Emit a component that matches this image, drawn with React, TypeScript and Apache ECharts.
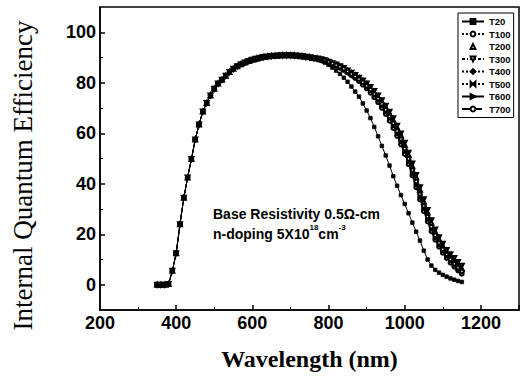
import React, { useEffect, useRef } from "react";
import * as echarts from "echarts";

// Wavelength grid (nm)
const wavelengths = [
  350, 360, 370, 380, 390, 400, 410, 420, 430, 440,
  450, 460, 470, 480, 490, 500, 510, 520, 530, 540,
  550, 560, 570, 580, 590, 600, 610, 620, 630, 640,
  650, 660, 670, 680, 690, 700, 710, 720, 730, 740,
  750, 760, 770, 780, 790, 800, 810, 820, 830, 840,
  850, 860, 870, 880, 890, 900, 910, 920, 930, 940,
  950, 960, 970, 980, 990, 1000, 1010, 1020, 1030, 1040,
  1050, 1060, 1070, 1080, 1090, 1100, 1110, 1120, 1130, 1140,
  1150,
];

// Common part of all curves, 350..770 nm (curves coincide here)
const blueQE = [
  0, 0, 0, 0.3, 5.5, 12.5, 24, 34.5, 42.5, 49.8,
  57.5, 63.5, 68.6, 72.0, 75.0, 77.6, 79.7, 81.2, 82.8, 84.3,
  85.5, 86.5, 87.3, 88.0, 88.6, 89.1, 89.5, 89.9, 90.2, 90.4,
  90.6, 90.7, 90.8, 90.9, 90.9, 90.9, 90.8, 90.7, 90.5, 90.3,
  90.1, 89.8, 89.6,
];

// Red-edge parts, 780..1150 nm
const t20Tail = [
  88.8, 88.0, 87.1, 86.0, 84.8, 83.5, 82.0, 80.4, 78.5, 76.5,
  74.5, 71.8, 69.0, 66.0, 62.5, 58.8, 55.0, 51.2, 47.2, 43.0,
  39.2, 35.5, 32.0, 28.3, 24.6, 21.0, 17.5, 13.5, 10.0, 7.6,
  5.9, 4.8, 3.9, 3.2, 2.5, 2.0, 1.5, 1.1,
];
const t100Tail = [
  89.3, 88.8, 88.2, 87.6, 87.0, 86.3, 85.5, 84.5, 83.5, 82.5,
  81.4, 80.2, 78.8, 77.3, 75.5, 73.7, 71.6, 69.3, 66.7, 64.0,
  60.9, 57.7, 53.9, 49.9, 45.4, 40.9, 35.9, 31.2, 27.0, 23.0,
  19.6, 16.6, 14.1, 12.0, 10.0, 8.3, 6.7, 5.3,
];
const t200Tail = [
  89.3, 88.8, 88.3, 87.7, 87.1, 86.4, 85.7, 84.8, 83.8, 82.9,
  81.8, 80.6, 79.4, 77.9, 76.3, 74.5, 72.6, 70.3, 67.9, 65.2,
  62.3, 59.1, 55.4, 51.4, 46.9, 42.5, 37.6, 32.9, 28.6, 24.6,
  21.0, 18.0, 15.4, 13.1, 11.1, 9.3, 7.7, 6.3,
];
const t300Tail = [
  89.3, 88.9, 88.3, 87.7, 87.2, 86.5, 85.8, 84.9, 84.0, 83.1,
  82.0, 80.9, 79.7, 78.3, 76.7, 75.0, 73.1, 70.9, 68.5, 65.9,
  63.0, 59.9, 56.2, 52.3, 48.0, 43.5, 38.6, 33.9, 29.6, 25.5,
  21.9, 18.8, 16.2, 13.8, 12.1, 10.6, 9.0, 7.5,
];
const t400Tail = [
  89.3, 88.8, 88.2, 87.6, 87.0, 86.3, 85.5, 84.6, 83.7, 82.7,
  81.6, 80.4, 79.1, 77.6, 76.0, 74.2, 72.2, 70.0, 67.5, 64.8,
  61.8, 58.6, 54.9, 50.9, 46.4, 41.9, 36.9, 32.2, 27.9, 23.9,
  20.4, 17.4, 14.8, 12.6, 10.6, 8.9, 7.3, 5.9,
];
const t500Tail = [
  89.3, 88.7, 88.1, 87.5, 86.9, 86.1, 85.3, 84.4, 83.4, 82.3,
  81.1, 79.9, 78.5, 76.9, 75.1, 73.2, 71.1, 68.7, 66.1, 63.3,
  60.2, 57.0, 53.1, 49.1, 44.6, 40.1, 35.2, 30.5, 26.3, 22.4,
  19.0, 16.1, 13.6, 11.5, 9.6, 8.0, 6.4, 5.1,
];
const t600Tail = [
  89.2, 88.7, 88.1, 87.4, 86.8, 86.0, 85.2, 84.2, 83.2, 82.1,
  80.9, 79.6, 78.1, 76.5, 74.7, 72.8, 70.6, 68.2, 65.6, 62.7,
  59.6, 56.3, 52.4, 48.4, 43.9, 39.3, 34.4, 29.8, 25.6, 21.7,
  18.4, 15.5, 13.1, 11.0, 9.2, 7.5, 6.0, 4.7,
];
const t700Tail = [
  89.2, 88.6, 88.0, 87.3, 86.7, 85.9, 85.0, 84.0, 82.9, 81.8,
  80.6, 79.2, 77.7, 76.0, 74.2, 72.2, 70.0, 67.6, 64.9, 62.0,
  58.9, 55.5, 51.7, 47.7, 43.2, 38.6, 33.7, 29.1, 25.0, 21.1,
  17.8, 15.0, 12.6, 10.5, 8.7, 7.1, 5.6, 4.3,
];

const seriesNames = ["T20", "T100", "T200", "T300", "T400", "T500", "T600", "T700"];
const seriesTails = [t20Tail, t100Tail, t200Tail, t300Tail, t400Tail, t500Tail, t600Tail, t700Tail];

const yTickValues = [0, 20, 40, 60, 80, 100];
const yMinorValues = [10, 30, 50, 70, 90];

const styles: any[] = [
  { symbol: "rect", symbolSize: 3.5, lineType: "solid", lineOpacity: 1 },
  { symbol: "emptyCircle", symbolSize: 3.5, lineType: "dotted", lineOpacity: 1 },
  { symbol: "emptyTriangle", symbolSize: 4, lineType: "solid", lineOpacity: 0 },
  { symbol: "emptyTriangle", symbolSize: 4, symbolRotate: 180, lineType: [3, 2, 1, 2], lineOpacity: 1 },
  { symbol: "diamond", symbolSize: 4, lineType: "dotted", lineOpacity: 1 },
  { symbol: "path://M0,0L10,10L10,0L0,10Z", symbolSize: 4, lineType: "dotted", lineOpacity: 1 },
  { symbol: "triangle", symbolSize: 4, symbolRotate: -90, lineType: "solid", lineOpacity: 1 },
  { symbol: "emptyCircle", symbolSize: 3.5, lineType: "dashed", lineOpacity: 1 },
];

export default function App() {
  const ref = useRef<HTMLDivElement>(null);
  useEffect(() => {
    if (!ref.current) return;
    const chart = echarts.init(ref.current, undefined, { renderer: "svg" });
    const series = seriesNames.map((name, k) => {
      const full = blueQE.concat(seriesTails[k]);
      const st = styles[k];
      return {
        name,
        type: "line",
        data: wavelengths.map((w, i) => [w, full[i]]),
        symbol: st.symbol,
        symbolSize: st.symbolSize,
        symbolRotate: st.symbolRotate || 0,
        showAllSymbol: true,
        itemStyle: { color: "#000", borderColor: "#000", borderWidth: 0.8 },
        lineStyle: { color: "#000", width: 1, type: st.lineType, opacity: st.lineOpacity },
        z: 10 - k,
      };
    });
    chart.setOption({
      animation: false,
      backgroundColor: "#fff",
      grid: {
        left: 100,
        right: 2,
        top: 7,
        bottom: 68,
        show: true,
        borderColor: "#000",
        borderWidth: 1.5,
        containLabel: false,
      },
      legend: {
        data: seriesNames,
        orient: "vertical",
        left: 458,
        top: 13,
        padding: [3, 3, 3, 3],
        itemGap: 1.5,
        itemWidth: 22,
        itemHeight: 6,
        borderColor: "#000",
        borderWidth: 1,
        backgroundColor: "#fff",
        textStyle: {
          fontFamily: "Liberation Sans",
          fontWeight: "bold",
          fontSize: 9.5,
          lineHeight: 11,
          color: "#000",
        },
      },
      xAxis: {
        type: "value",
        min: 200,
        max: 1300,
        interval: 200,
        name: "Wavelength (nm)",
        nameLocation: "middle",
        nameGap: 37,
        nameTextStyle: {
          fontFamily: "Liberation Serif",
          fontWeight: "bold",
          fontSize: 24,
          color: "#000",
        },
        axisLine: { onZero: false, lineStyle: { color: "#000", width: 1.5 } },
        axisTick: { inside: true, length: 5, lineStyle: { color: "#000", width: 1.5 } },
        minorTick: { show: true, splitNumber: 2, length: 3, lineStyle: { color: "#000", width: 1 } },
        splitLine: { show: false },
        minorSplitLine: { show: false },
        axisLabel: {
          color: "#000",
          fontFamily: "Liberation Sans",
          fontWeight: "bold",
          fontSize: 18,
          margin: 4,
          showMaxLabel: false,
          formatter: (v: number) => String(v),
        },
      },
      yAxis: [
        {
          type: "value",
          min: -10,
          max: 110,
          name: "Internal Quantum Efficiency",
          nameLocation: "middle",
          nameGap: 64,
          nameRotate: 90,
          nameTextStyle: {
            fontFamily: "Liberation Serif",
            fontSize: 27,
            color: "#000",
            padding: [0, 34, 0, 0],
          },
          axisLine: { show: true, onZero: false, lineStyle: { color: "#000", width: 1.5 } },
          axisTick: {
            show: true,
            inside: true,
            length: 5,
            customValues: yTickValues,
            lineStyle: { color: "#000", width: 1.5 },
          },
          axisLabel: {
            color: "#000",
            fontFamily: "Liberation Sans",
            fontWeight: "bold",
            fontSize: 18,
            margin: 4,
            customValues: yTickValues,
          },
          splitLine: { show: false },
        },
        {
          type: "value",
          min: -10,
          max: 110,
          position: "left",
          axisLine: { show: false },
          axisTick: {
            show: true,
            inside: true,
            length: 3,
            customValues: yMinorValues,
            lineStyle: { color: "#000", width: 1 },
          },
          axisLabel: { show: false },
          splitLine: { show: false },
        },
      ],
      graphic: [
        {
          type: "text",
          left: 213,
          top: 207,
          style: {
            text: "Base Resistivity 0.5Ω-cm",
            fontFamily: "Liberation Sans",
            fontWeight: "bold",
            fontSize: 14,
            fill: "#000",
          },
        },
        {
          type: "text",
          left: 213,
          top: 223,
          style: {
            text: "{a|n-doping 5X10}{s|18}{a|cm}{s|-3}",
            fill: "#000",
            rich: {
              a: { fontFamily: "Liberation Sans", fontWeight: "bold", fontSize: 14, lineHeight: 18, verticalAlign: "bottom" },
              s: { fontFamily: "Liberation Sans", fontWeight: "bold", fontSize: 8, lineHeight: 12, verticalAlign: "top" },
            },
          },
        },
      ],
      series,
    });
    return () => chart.dispose();
  }, []);
  return (
    <div
      ref={ref}
      style={{ position: "fixed", left: 0, top: 0, width: 521, height: 378 }}
    />
  );
}
